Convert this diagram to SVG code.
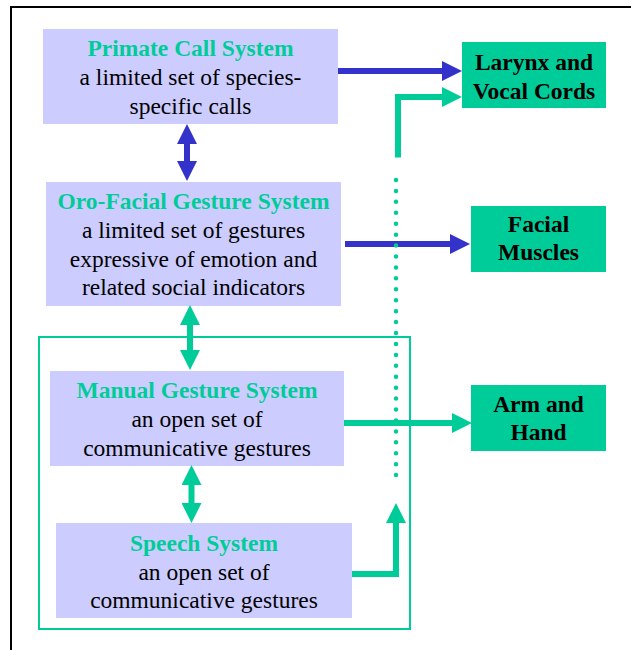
<svg xmlns="http://www.w3.org/2000/svg" width="631" height="650" viewBox="0 0 631 650">
<defs>
<style>
.sys{fill:#CCCCFF;}
.out{fill:#00CC99;}
text{font-size:23.5px;text-anchor:middle;}
.ttl{font-weight:bold;fill:#00CC99;}
.body{fill:#000;}
.outt{font-weight:bold;fill:#000;}
.blue{stroke:#3333CC;stroke-width:6;fill:none;}
.green{stroke:#00CC99;stroke-width:6;fill:none;}
</style>
<marker id="hb" markerUnits="userSpaceOnUse" viewBox="0 0 20 20" markerWidth="20" markerHeight="20" refX="0" refY="10" orient="auto-start-reverse"><path d="M0,0 L20,10 L0,20 z" fill="#3333CC"/></marker>
<marker id="hg" markerUnits="userSpaceOnUse" viewBox="0 0 20 20" markerWidth="20" markerHeight="20" refX="0" refY="10" orient="auto-start-reverse"><path d="M0,0 L20,10 L0,20 z" fill="#00CC99"/></marker>
</defs>
<rect width="631" height="650" fill="#fff"/>
<path d="M11,650 V7 H631" fill="none" stroke="#000" stroke-width="2"/>
<rect id="speech-group" x="39" y="337" width="371" height="292" fill="none" stroke="#00CC99" stroke-width="2"/>

<g font-family="'Liberation Serif', 'Times New Roman', 'DejaVu Serif', serif">
<g id="primate">
<rect class="sys" x="43" y="29" width="295" height="95"/>
<text class="ttl" x="190.5" y="56">Primate Call System</text>
<text class="body" x="190.5" y="85">a limited set of species-</text>
<text class="body" x="190.5" y="113.5">specific calls</text>
</g>
<g id="orofacial">
<rect class="sys" x="46" y="182" width="295" height="124"/>
<text class="ttl" x="193.5" y="209">Oro-Facial Gesture System</text>
<text class="body" x="193.5" y="238">a limited set of gestures</text>
<text class="body" x="193.5" y="266.5">expressive of emotion and</text>
<text class="body" x="193.5" y="295">related social indicators</text>
</g>
<g id="manual">
<rect class="sys" x="50" y="371" width="294" height="95"/>
<text class="ttl" x="197" y="398">Manual Gesture System</text>
<text class="body" x="197" y="427">an open set of</text>
<text class="body" x="197" y="455.5">communicative gestures</text>
</g>
<g id="speech">
<rect class="sys" x="56" y="523" width="296" height="95"/>
<text class="ttl" x="204" y="551">Speech System</text>
<text class="body" x="204" y="580">an open set of</text>
<text class="body" x="204" y="608">communicative gestures</text>
</g>
<g id="larynx">
<rect class="out" x="462" y="42" width="144" height="66"/>
<text class="outt" x="534" y="70">Larynx and</text>
<text class="outt" x="534" y="98.5">Vocal Cords</text>
</g>
<g id="facial">
<rect class="out" x="471" y="206" width="135" height="66"/>
<text class="outt" x="538.5" y="232">Facial</text>
<text class="outt" x="538.5" y="260">Muscles</text>
</g>
<g id="arm">
<rect class="out" x="471" y="385" width="135" height="66"/>
<text class="outt" x="538.5" y="412">Arm and</text>
<text class="outt" x="538.5" y="439.5">Hand</text>
</g>
</g>

<g id="connectors">
<path class="blue" d="M338,71 H442" marker-end="url(#hb)"/>
<path class="blue" d="M345,244 H450" marker-end="url(#hb)"/>
<path class="blue" d="M187,144 V161" marker-start="url(#hb)" marker-end="url(#hb)"/>
<path class="green" d="M190,325 V350" marker-start="url(#hg)" marker-end="url(#hg)"/>
<path class="green" d="M191.5,485 V503" marker-start="url(#hg)" marker-end="url(#hg)"/>
<path class="green" d="M344,423 H452" marker-end="url(#hg)"/>
<path class="green" d="M398,157.5 V97 H442" marker-end="url(#hg)"/>
<path class="green" d="M352,574 H396 V523" marker-end="url(#hg)"/>
<path d="M396,180 V486" fill="none" stroke="#00CC99" stroke-width="4.5" stroke-linecap="round" stroke-dasharray="0 10.93"/>
</g>
</svg>
